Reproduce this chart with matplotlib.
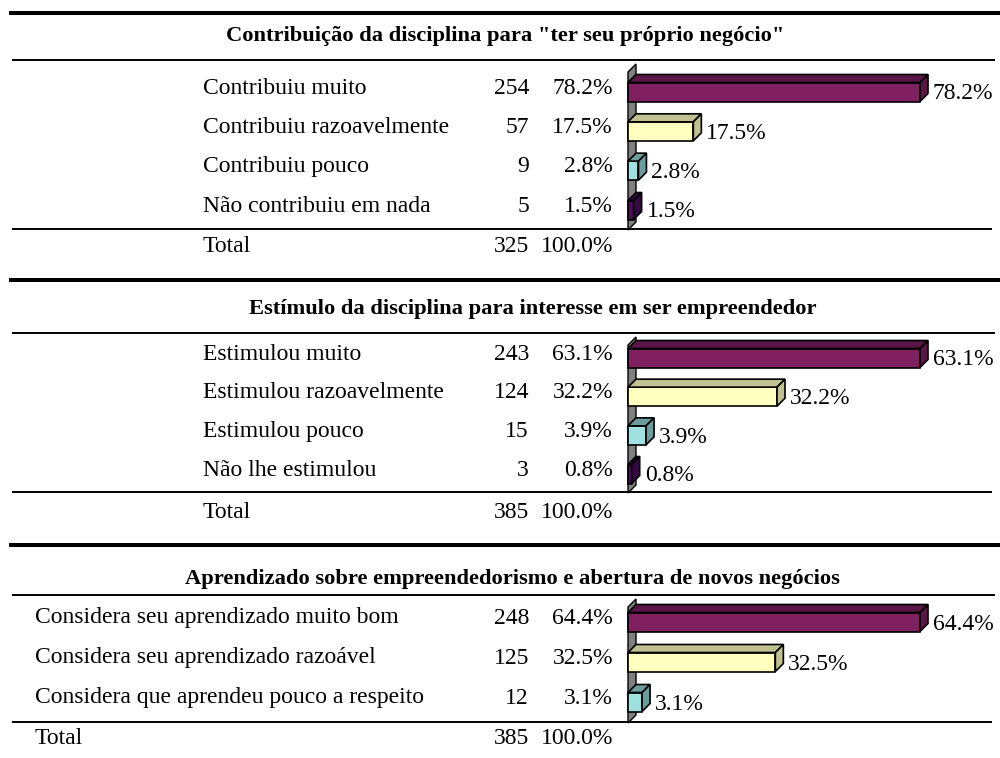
import matplotlib
matplotlib.use("Agg")
import matplotlib.pyplot as plt
import matplotlib.transforms as mtransforms
from matplotlib.lines import Line2D
from matplotlib.patches import Polygon

# ---- data -------------------------------------------------------------
title_1 = 'Contribuição da disciplina para "ter seu próprio negócio"'
labels_1 = ["Contribuiu muito", "Contribuiu razoavelmente",
            "Contribuiu pouco", "Não contribuiu em nada"]
counts_1 = [254, 57, 9, 5]
pcts_1 = [78.2, 17.5, 2.8, 1.5]
total_1 = 325

title_2 = "Estímulo da disciplina para interesse em ser empreendedor"
labels_2 = ["Estimulou muito", "Estimulou razoavelmente",
            "Estimulou pouco", "Não lhe estimulou"]
counts_2 = [243, 124, 15, 3]
pcts_2 = [63.1, 32.2, 3.9, 0.8]
total_2 = 385

title_3 = "Aprendizado sobre empreendedorismo e abertura de novos negócios"
labels_3 = ["Considera seu aprendizado muito bom",
            "Considera seu aprendizado razoável",
            "Considera que aprendeu pouco a respeito"]
counts_3 = [248, 125, 12]
pcts_3 = [64.4, 32.5, 3.1]
total_3 = 385

# ---- look -------------------------------------------------------------
W, H = 1000, 758
FONT = ["Liberation Serif", "DejaVu Serif"]
FS = 17
FS_TITLE = 16.2
front_cols = ["#802060", "#FFFFC0", "#A0E0E0", "#4C0C5C"]
shade_cols = ["#5A1646", "#C0C090", "#6C9C9C", "#340840"]
WALL = "#808080"
BAR_X0, BAR_X1 = 628, 920     # pixel span of the longest bar
DEPTH = 8                      # 3d depth, px
BAR_H = 19                     # front face height, px
SHIFT = 4                      # front face sits below the row centre
COUNT_X, PCT_X = 529, 613

# pixel layout of each block (y measured from the top)
layouts = [
    dict(thick=13, title_y=36, title_x=505, rule=60, rows=[88, 128, 167, 206],
         foot=229, total_y=246, label_x=203),
    dict(thick=280, title_y=309, title_x=533, rule=333, rows=[354, 393, 432, 470],
         foot=492, total_y=513, label_x=203),
    dict(thick=545, title_y=579, title_x=512, rule=595, rows=[618, 658, 698],
         foot=722, total_y=738, label_x=35),
]
blocks = [
    (title_1, labels_1, counts_1, pcts_1, total_1),
    (title_2, labels_2, counts_2, pcts_2, total_2),
    (title_3, labels_3, counts_3, pcts_3, total_3),
]

plt.rcParams["font.family"] = FONT
fig = plt.figure(figsize=(W / 100, H / 100), dpi=100)


def fx(px):
    return px / W


def fy(py):
    return 1 - py / H


def hline(y, x0, x1, lw):
    fig.add_artist(Line2D([fx(x0), fx(x1)], [fy(y), fy(y)], color="black",
                          lw=lw, solid_capstyle="butt"))


def draw_block(title, labels, counts, pcts, total, lay):
    n = len(pcts)
    rows = lay["rows"]
    pitch = (rows[-1] - rows[0]) / (n - 1)
    top = rows[0] - pitch / 2
    bot = rows[-1] + pitch / 2

    # rules and title
    hline(lay["thick"], 9, 1000, 2.9)
    hline(lay["rule"], 12, 995, 1.4)
    hline(lay["foot"], 12, 992, 1.4)
    fig.text(fx(lay["title_x"]), fy(lay["title_y"]), title, ha="center",
             va="center", fontsize=FS_TITLE, fontweight="bold")

    ax = fig.add_axes([fx(BAR_X0), fy(bot), fx(BAR_X1 - BAR_X0), (bot - top) / H])
    vmax = max(pcts)
    ax.set_xlim(0, vmax)
    ax.set_ylim(n - 0.5, -0.5)
    ax.axis("off")

    dx = DEPTH * vmax / (BAR_X1 - BAR_X0)
    dy = DEPTH / pitch
    bh = BAR_H / pitch
    sh = SHIFT / pitch
    gap = 5 * vmax / (BAR_X1 - BAR_X0)

    # back wall
    w_top = (lay["rule"] + 12 - rows[0]) / pitch
    w_bot = (lay["foot"] + 1 - rows[0]) / pitch
    ax.add_patch(Polygon([(0, w_bot), (0, w_top), (dx, w_top - dy), (dx, w_bot - dy)],
                         closed=True, fc=WALL, ec="black", lw=1, clip_on=False, zorder=1))

    ypos = [i + sh for i in range(n)]
    ax.barh(ypos, pcts, height=bh, color=front_cols[:n], edgecolor="black",
            linewidth=1.2, clip_on=False, zorder=3)
    for i, v in enumerate(pcts):
        y0, y1 = ypos[i] - bh / 2, ypos[i] + bh / 2
        ax.add_patch(Polygon([(0, y0), (v, y0), (v + dx, y0 - dy), (dx, y0 - dy)],
                             closed=True, fc=shade_cols[i], ec="black", lw=1.2,
                             clip_on=False, zorder=3))
        ax.add_patch(Polygon([(v, y0), (v + dx, y0 - dy), (v + dx, y1 - dy), (v, y1)],
                             closed=True, fc=shade_cols[i], ec="black", lw=1.2,
                             clip_on=False, zorder=3))
        ax.text(v + dx + gap, ypos[i] + 0.05, f"{v:.1f}%", ha="left", va="center",
                fontsize=FS, clip_on=False)

    # table columns, rows follow the bar axis
    tr = mtransforms.blended_transform_factory(fig.transFigure, ax.transData)
    for i in range(n):
        ax.text(fx(lay["label_x"]), i, labels[i], transform=tr, ha="left",
                va="center", fontsize=FS)
        ax.text(fx(COUNT_X), i, str(counts[i]), transform=tr, ha="right",
                va="center", fontsize=FS)
        ax.text(fx(PCT_X), i, f"{pcts[i]:.1f}%", transform=tr, ha="right",
                va="center", fontsize=FS)

    fig.text(fx(lay["label_x"]), fy(lay["total_y"]), "Total", ha="left",
             va="center", fontsize=FS)
    fig.text(fx(COUNT_X), fy(lay["total_y"]), str(total), ha="right",
             va="center", fontsize=FS)
    fig.text(fx(PCT_X), fy(lay["total_y"]), f"{sum(pcts):.1f}%", ha="right",
             va="center", fontsize=FS)


for blk, lay in zip(blocks, layouts):
    draw_block(*blk, lay)

fig.savefig("out.png", dpi=100, facecolor="white")
